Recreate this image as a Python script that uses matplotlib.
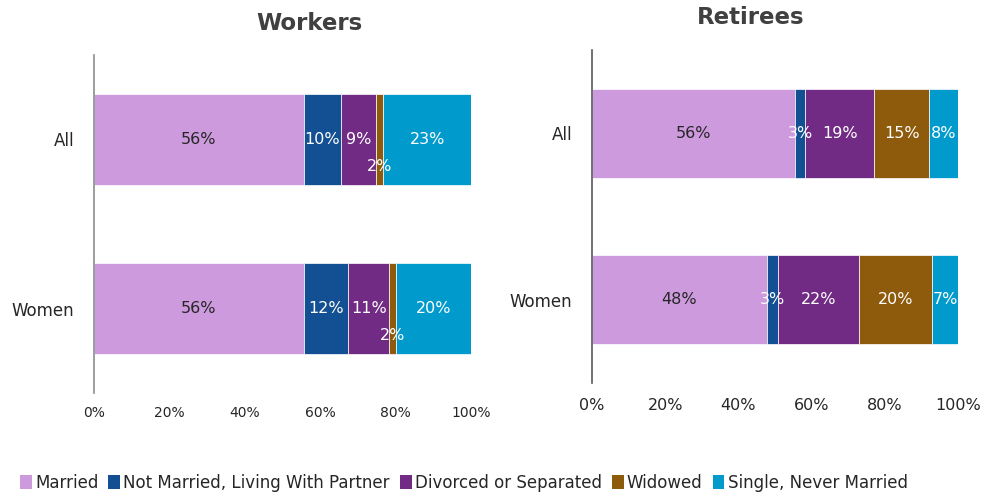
import matplotlib.pyplot as plt
from matplotlib.patches import Patch

plt.rcParams['font.family'] = ['DejaVu Sans']

categories = ["All", "Women"]
series_names = ["Married", "Not Married, Living With Partner",
                "Divorced or Separated", "Widowed", "Single, Never Married"]
colors = ["#CE9ADE", "#124F93", "#722B85", "#8E5A0B", "#009ACD"]
label_colors = ["#262626", "white", "white", "white", "white"]

workers_married = [55.7, 55.6]
workers_partner = [9.8, 11.9]
workers_divorced = [9.4, 10.8]
workers_widowed = [1.8, 1.8]
workers_single = [23.3, 19.9]

retirees_married = [55.6, 47.8]
retirees_partner = [2.7, 3.0]
retirees_divorced = [18.8, 22.2]
retirees_widowed = [15.1, 19.9]
retirees_single = [7.8, 7.1]

x_ticks = [0, 20, 40, 60, 80, 100]

W, H = 984, 498
fig = plt.figure(figsize=(W / 100, H / 100), dpi=100)


def make_axes(left, top, right, bottom):
    return fig.add_axes([left / W, 1 - bottom / H, (right - left) / W, (bottom - top) / H])


def draw(ax, data, tick_size, tick_pad, spine_color, cat_size):
    y = list(range(len(categories)))
    left = [0.0] * len(categories)
    for vals, col, lc in zip(data, colors, label_colors):
        ax.barh(y, vals, left=left, height=0.535, color=col,
                edgecolor="white", linewidth=0.5)
        for i, v in enumerate(vals):
            cx = left[i] + v / 2
            cy = y[i] + (0.16 if v < 2.5 else 0)
            ax.text(cx, cy, f"{v:.0f}%", ha="center", va="center",
                    color=lc, fontsize=11.5)
        left = [l + v for l, v in zip(left, vals)]
    ax.set_xlim(0, 100)
    ax.set_ylim(1.5, -0.5)
    ax.set_yticks(y)
    ax.set_yticklabels(categories, fontsize=cat_size, color="#262626")
    ax.set_xticks(x_ticks)
    ax.set_xticklabels([f"{t}%" for t in x_ticks], fontsize=tick_size, color="#262626")
    ax.tick_params(axis="both", length=0)
    ax.tick_params(axis="x", pad=tick_pad)
    ax.tick_params(axis="y", pad=14)
    for s in ["top", "right", "bottom"]:
        ax.spines[s].set_visible(False)
    ax.spines["left"].set_color(spine_color)
    ax.spines["left"].set_linewidth(1.2)


ax1 = make_axes(94, 55, 471, 393)
draw(ax1, [workers_married, workers_partner, workers_divorced, workers_widowed, workers_single],
     10, 9, "#8c8c8c", 12)
ax2 = make_axes(592, 50, 958, 383)
draw(ax2, [retirees_married, retirees_partner, retirees_divorced, retirees_widowed, retirees_single],
     11.5, 11, "#595959", 12)

fig.text(309 / W, 1 - 23 / H, "Workers", ha="center", va="center",
         fontsize=16.5, fontweight="bold", color="#404040")
fig.text(751 / W, 1 - 18 / H, "Retirees", ha="center", va="center",
         fontsize=16.5, fontweight="bold", color="#404040")

handles = [Patch(facecolor=c, edgecolor="none") for c in colors]
fig.legend(handles, series_names, loc="center left", bbox_to_anchor=(20 / W, 1 - 483 / H),
           ncol=5, frameon=False, fontsize=12, handlelength=0.7, handleheight=0.9,
           handletextpad=0.2, columnspacing=0.6, borderaxespad=0, borderpad=0,
           labelcolor="#262626")

fig.savefig("out.png", dpi=100)
